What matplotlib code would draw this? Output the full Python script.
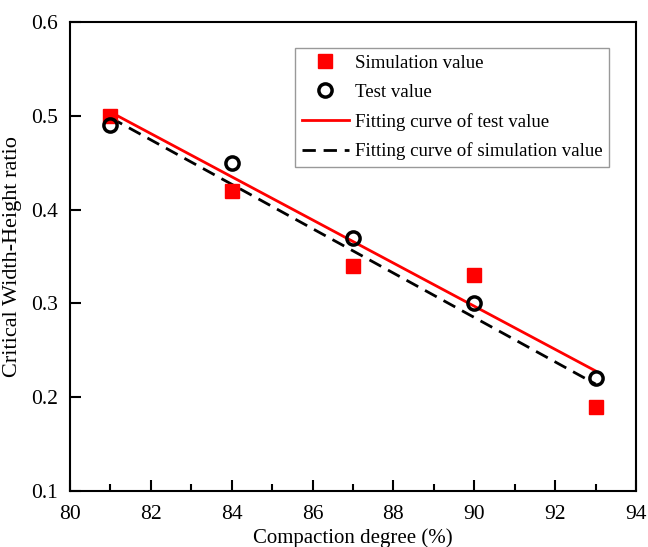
import matplotlib.pyplot as plt
import numpy as np

# Data
compaction = [81, 84, 87, 90, 93]
simulation = [0.50, 0.42, 0.34, 0.33, 0.19]
test = [0.49, 0.45, 0.37, 0.30, 0.22]

plt.rcParams['font.family'] = ['Liberation Serif', 'DejaVu Serif']

fig = plt.figure(figsize=(6.48, 5.47), dpi=100)
ax = fig.add_axes([70 / 648, 1 - 491 / 547, 566 / 648, 469 / 547])

# Linear fits
xs = np.array([81, 93])
p_test = np.polyfit(compaction, test, 1)
p_sim = np.polyfit(compaction, simulation, 1)

ax.plot(compaction, simulation, 's', color='red', markersize=9.5, label='Simulation value', zorder=3)
ax.plot(compaction, test, 'o', markerfacecolor='none', markeredgecolor='black',
        markeredgewidth=2.5, markersize=9.5, label='Test value', zorder=4)
ax.plot(xs, np.polyval(p_test, xs), '-', color='red', linewidth=2.0,
        label='Fitting curve of test value', zorder=2)
ax.plot(xs, np.polyval(p_sim, xs), '--', color='black', linewidth=2.0, dashes=(4.8, 2.8),
        label='Fitting curve of simulation value', zorder=1)

ax.set_xlim(80, 94)
ax.set_ylim(0.1, 0.6)
ax.set_xticks(np.arange(80, 95, 2))
ax.set_xticks(np.arange(81, 94, 2), minor=True)
ax.set_yticks([0.1, 0.2, 0.3, 0.4, 0.5, 0.6])
ax.tick_params(axis='both', direction='in', labelsize=15.5, width=1.5, length=8)
ax.tick_params(axis='x', which='minor', direction='in', width=1.5, length=5)
ax.tick_params(axis='x', pad=10)
ax.tick_params(axis='y', pad=9)
for s in ax.spines.values():
    s.set_linewidth(1.5)

ax.set_xlabel('Compaction degree (%)', fontsize=15, labelpad=3)
ax.set_ylabel('Critical Width-Height ratio', fontsize=16, labelpad=6)

leg = ax.legend(loc='upper left', bbox_to_anchor=(0.398, 0.944), fontsize=13.6,
                frameon=True, fancybox=False, edgecolor='gray', handlelength=2.5,
                handletextpad=0.3, borderpad=0.35, borderaxespad=0,
                labelspacing=0.62)
leg.get_frame().set_linewidth(1.0)

fig.savefig('out.png', dpi=100)
